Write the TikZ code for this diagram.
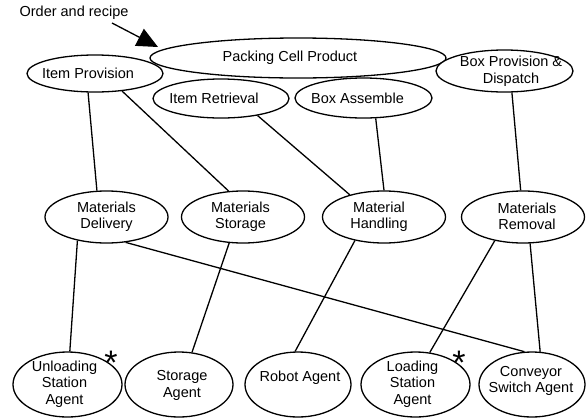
\documentclass[tikz,border=0pt]{standalone}
\usepackage{fontspec}
\setmainfont{Liberation Sans}
\usetikzlibrary{shapes.geometric,arrows.meta}
\begin{document}
\begin{tikzpicture}[x=1pt,y=-1pt,
  every node/.style={font=\fontsize{14.5}{16.5}\selectfont},
  blob/.style 2 args={ellipse,draw,line width=1.3pt,fill=white,inner sep=0pt,
    minimum width=#1pt,minimum height=#2pt},
  lbl/.style={align=center,inner sep=0pt},
  link/.style={line width=1.3pt},
  starmark/.style={inner sep=0pt,anchor=base,font=\fontsize{34}{34}\selectfont}]
\fill[white] (0,0) rectangle (586,418);
\useasboundingbox (0,0) rectangle (586,418);

% top level: the product and its functions
\node[blob={296}{40}] (pcp) at (298,58) {};
\node[blob={136}{37}] (ip)  at (95,73.5) {};
\node[blob={136}{39}] (ir)  at (221,98.5) {};
\node[blob={137}{40}] (ba)  at (363.5,98) {};
\node[blob={137}{42}] (bpd) at (504.5,71) {};

\node[lbl] (pcp-t) at (290,58) {Packing Cell Product};
\node[lbl] (ip-t)  at (88,73) {Item Provision};
\node[lbl] (ir-t)  at (214,98) {Item Retrieval};
\node[lbl] (ba-t)  at (357.5,98) {Box Assemble};
\node[lbl] (bpd-t) at (511,71) {Box Provision \&\\Dispatch};

% order input
\node[lbl] (order) at (74,13) {Order and recipe};
\coordinate (orderfoot) at (112,23);
\coordinate (ordertip) at (158,47);
\draw[link,-{Triangle[length=21pt,width=19pt]}] (orderfoot) -- (ordertip);

% middle level: material functions
\node[blob={123}{52}] (md) at (106.5,217) {};
\node[blob={123}{52}] (ms) at (243,217) {};
\node[blob={123}{52}] (mh) at (384,217) {};
\node[blob={123}{52}] (mr) at (523,217) {};

\node[lbl] (md-t) at (106.5,216.5) {Materials\\Delivery};
\node[lbl] (ms-t) at (240.5,216.5) {Materials\\Storage};
\node[lbl] (mh-t) at (379,216.5) {Material\\Handling};
\node[lbl] (mr-t) at (527,216.5) {Materials\\Removal};

% bottom level: agents
\node[blob={109}{65}] (usa) at (67.5,384.5) {};
\node[blob={108}{65}] (sa)  at (179,384.5) {};
\node[blob={106}{65}] (ra)  at (298,384.5) {};
\node[blob={109}{65}] (lsa) at (415.5,384.5) {};
\node[blob={106}{65}] (csa) at (532,384.5) {};

\node[lbl] (usa-t) at (64.5,384) {Unloading\\Station\\Agent};
\node[lbl] (sa-t)  at (182,385.5) {Storage\\Agent};
\node[lbl] (ra-t)  at (300,378) {Robot Agent};
\node[lbl] (lsa-t) at (412.5,384) {Loading\\Station\\Agent};
\node[lbl] (csa-t) at (531,381) {Conveyor\\Switch Agent};

\node[starmark] (usa-star) at (111,374) {*};
\node[starmark] (lsa-star) at (459,374) {*};

% decomposition links
\draw[link] (ip.-110) -- (md.110);
\draw[link] (ip.-33.5) -- (ms.119);
\draw[link] (ir.-25.4) -- (mh.147.5);
\draw[link] (ba.-59) -- (mh.90);
\draw[link] (bpd.-71) -- (mr.95);

\draw[link] (md.-141) -- (usa.86);
\draw[link] (md.-53.5) -- (csa.103.4);
\draw[link] (ms.-118) -- (sa.68);
\draw[link] (mh.-141.6) -- (ra.95);
\draw[link] (mr.-140) -- (lsa.66);
\draw[link] (mr.-75) -- (csa.76.6);
\end{tikzpicture}
\end{document}
